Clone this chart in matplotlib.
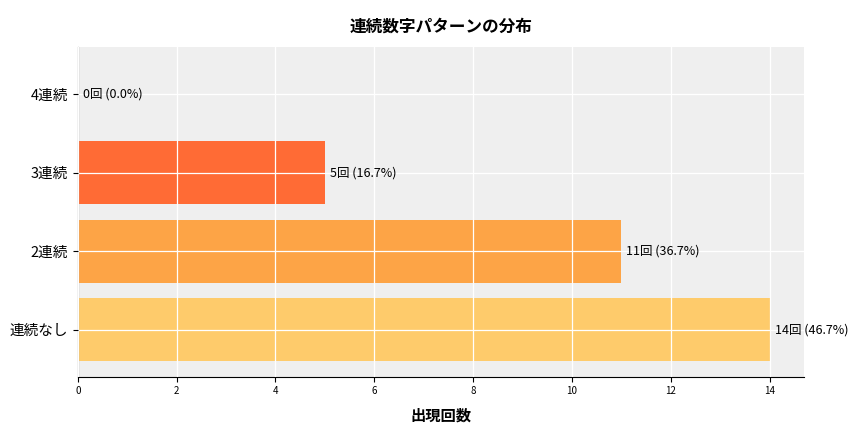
import matplotlib
matplotlib.use("Agg")
import matplotlib.pyplot as plt

plt.rcParams["font.family"] = "Noto Sans CJK JP"

categories = ["連続なし", "2連続", "3連続", "4連続"]
counts = [14, 11, 5, 0]
percents = [46.7, 36.7, 16.7, 0.0]
colors = ["#FECB6B", "#FDA446", "#FF6B35", "#E8452C"]

fig = plt.figure(figsize=(8.64, 4.32), dpi=100)
ax = fig.add_axes([0.090, 0.128, 0.841, 0.763])
ax.set_facecolor("#EFEFEF")
ax.barh(categories, counts, color=colors, height=0.8, zorder=1)
ax.grid(True, color="white", linewidth=0.9, zorder=2)
ax.set_axisbelow(False)
for i, (c, p) in enumerate(zip(counts, percents)):
    ax.text(c + 0.1, i, f"{c}回 ({p:.1f}%)", va="center", ha="left", fontsize=9, zorder=3)
ax.set_xlim(0, 14.7)
ax.set_ylim(-0.6, 3.6)
ax.set_xticks(range(0, 15, 2))
ax.tick_params(axis="x", labelsize=7)
ax.tick_params(axis="y", labelsize=10.5)
ax.set_xlabel("出現回数", fontsize=11, fontweight="bold", labelpad=8)
for s in ["top", "right"]:
    ax.spines[s].set_visible(False)
fig.suptitle("連続数字パターンの分布", fontsize=12, fontweight="bold", x=0.51, y=0.96)
fig.savefig("out.png", dpi=100)
